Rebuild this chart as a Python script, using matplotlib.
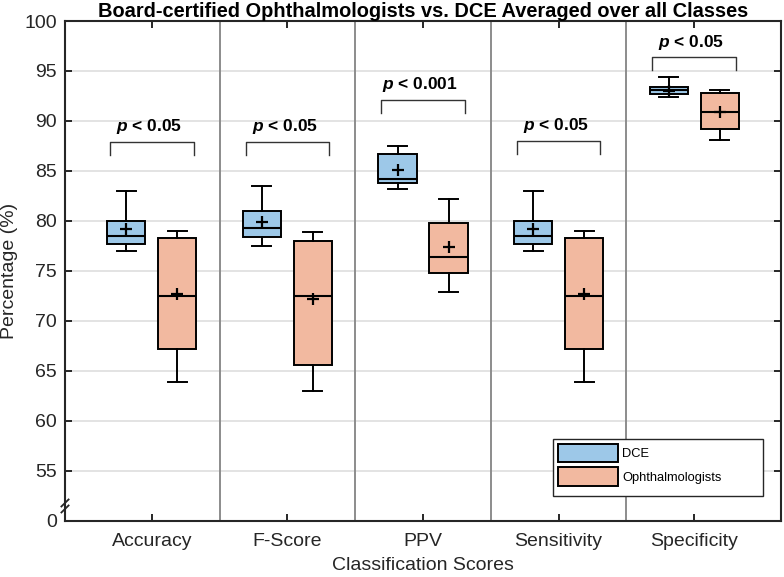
import numpy as np
import matplotlib
matplotlib.use("Agg")
import matplotlib.pyplot as plt
from matplotlib.patches import Patch, Rectangle

plt.rcParams["font.family"] = ["Liberation Sans", "DejaVu Sans"]
plt.rcParams["mathtext.fontset"] = "custom"
plt.rcParams["mathtext.it"] = "Liberation Sans:italic:bold"
plt.rcParams["mathtext.rm"] = "Liberation Sans:bold"

categories = ["Accuracy", "F-Score", "PPV", "Sensitivity", "Specificity"]

# DCE box stats (percent)
dce_min = [77.0, 77.5, 83.2, 77.0, 92.4]
dce_q1 = [77.7, 78.4, 83.8, 77.7, 92.7]
dce_med = [78.5, 79.3, 84.2, 78.5, 93.1]
dce_q3 = [80.0, 81.0, 86.7, 80.0, 93.4]
dce_max = [83.0, 83.5, 87.5, 83.0, 94.4]
dce_mean = [79.2, 79.9, 85.1, 79.2, 93.0]

# Ophthalmologists box stats (percent)
oph_min = [63.9, 63.0, 72.9, 63.9, 88.1]
oph_q1 = [67.2, 65.6, 74.8, 67.2, 89.2]
oph_med = [72.5, 72.5, 76.4, 72.5, 90.9]
oph_q3 = [78.3, 78.0, 79.8, 78.3, 92.8]
oph_max = [79.0, 78.9, 82.2, 79.0, 93.1]
oph_mean = [72.7, 72.2, 77.4, 72.7, 90.9]

p_values = ["< 0.05", "< 0.05", "< 0.001", "< 0.05", "< 0.05"]
bracket_top = [87.9, 87.9, 92.1, 88.0, 96.4]

ytick_vals = [50, 55, 60, 65, 70, 75, 80, 85, 90, 95, 100]
ytick_labels = ["0", "55", "60", "65", "70", "75", "80", "85", "90", "95", "100"]

blue = "#9dc8e8"
salmon = "#f2b9a0"
dark = "#262626"


def make_stats(lo, q1, med, q3, hi, mean):
    return [dict(whislo=a, q1=b, med=c, q3=d, whishi=e, mean=f, fliers=[])
            for a, b, c, d, e, f in zip(lo, q1, med, q3, hi, mean)]


fig = plt.figure(figsize=(7.84, 5.77), dpi=100)
ax = fig.add_axes([0.0829, 0.0971, 0.9133, 0.8665])

x = np.arange(1, len(categories) + 1)
off = 0.188
w = 0.283

common = dict(
    widths=w, patch_artist=True, showmeans=True, manage_ticks=False,
    whiskerprops=dict(color="black", lw=1.4),
    capprops=dict(color="black", lw=1.4),
    medianprops=dict(color="black", lw=1.5),
    meanprops=dict(marker="+", markeredgecolor="black", markersize=8, markeredgewidth=1.6),
    capwidths=w * 0.5,
)

ax.bxp(make_stats(dce_min, dce_q1, dce_med, dce_q3, dce_max, dce_mean),
       positions=x - off, boxprops=dict(facecolor=blue, edgecolor="black", lw=1.4),
       **common)
ax.bxp(make_stats(oph_min, oph_q1, oph_med, oph_q3, oph_max, oph_mean),
       positions=x + off, boxprops=dict(facecolor=salmon, edgecolor="black", lw=1.4),
       **common)

# separators
for s in x[:-1] + 0.5:
    ax.axvline(s, color="#8c8c8c", lw=1.4, zorder=1)

# grid lines
for yv in ytick_vals[1:-1]:
    ax.axhline(yv, color="#e3e3e3", lw=1.4, zorder=0)

# significance brackets
hw = 0.308
for xi, top, pv in zip(x, bracket_top, p_values):
    ax.plot([xi - hw, xi - hw, xi + hw, xi + hw], [top - 1.33, top, top, top - 1.33],
            color="#333333", lw=1.0)
    ax.text(xi - 0.02, top + 0.55, r"$p$ " + pv, ha="center", va="bottom",
            fontsize=12.5, fontweight="bold", color="black")

ax.set_xlim(0.36, 5.64)
ax.set_ylim(50, 100)
ax.set_xticks(x)
ax.set_xticklabels(categories)
ax.set_yticks(ytick_vals)
ax.set_yticklabels(ytick_labels)
ax.tick_params(direction="in", length=5, width=1.4, top=True, right=True,
               labelsize=14, colors=dark)
ax.tick_params(axis="x", pad=9)
ax.tick_params(axis="y", pad=6)
for sp in ax.spines.values():
    sp.set_color(dark)
    sp.set_linewidth(1.5)

ax.set_xlabel("Classification Scores", fontsize=14, color=dark, labelpad=5)
ax.set_ylabel("Percentage (%)", fontsize=14, color=dark, labelpad=4)
ax.set_title("Board-certified Ophthalmologists vs. DCE Averaged over all Classes",
             fontsize=14.4, fontweight="bold", color="black", pad=3)

# axis break marks
trans = ax.get_yaxis_transform()
for yb in [51.2, 51.8]:
    ax.plot([-0.005, 0.005], [yb - 0.35, yb + 0.35], color=dark, lw=1.3,
            transform=trans, clip_on=False)

# legend: MATLAB-style box with extra room on the right
frame = Rectangle((0.682, 0.0506), 0.2925, 0.114, transform=ax.transAxes,
                  facecolor="white", edgecolor=dark, lw=1.0, zorder=4)
ax.add_patch(frame)
handles = [Patch(facecolor=blue, edgecolor="black", lw=1.4, label="DCE"),
           Patch(facecolor=salmon, edgecolor="black", lw=1.4, label="Ophthalmologists")]
leg = ax.legend(handles=handles, loc="upper left", bbox_to_anchor=(0.682, 0.1646),
                borderaxespad=0, fontsize=9.3, handlelength=4.6, handleheight=1.8,
                frameon=False, handletextpad=0.35, borderpad=0.4, labelspacing=0.4)
leg.set_zorder(5)

plt.savefig("out.png", dpi=100)
